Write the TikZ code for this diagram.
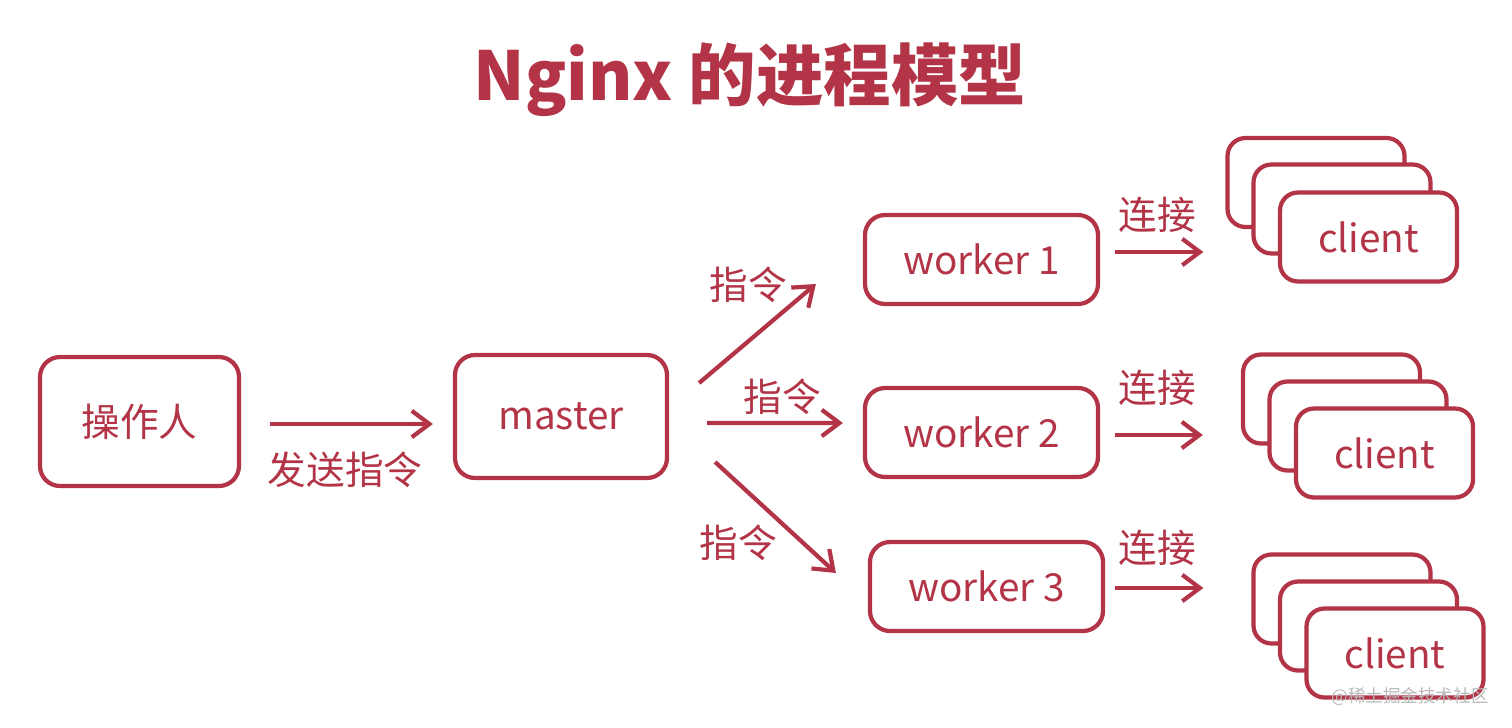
\documentclass[tikz,border=0pt]{standalone}
\usepackage{fontspec}
\setmainfont{Noto Sans CJK SC}
\usetikzlibrary{arrows.meta}
\definecolor{nred}{RGB}{178,52,70}

\begin{document}
\begin{tikzpicture}[>={Straight Barb[length=5pt,width=7.5pt]},
        box/.style={draw=nred, line width=1.2pt, rounded corners=0.2cm, fill=white, text=nred, inner sep=0pt, font=\fontsize{11}{13}\selectfont},
        cbox/.style={box, minimum width=1.77cm, minimum height=0.89cm, rounded corners=0.18cm},
        arr/.style={->, draw=nred, line width=1.2pt},
        lbl/.style={text=nred, inner sep=0pt, font=\fontsize{11}{13}\selectfont}]
        \useasboundingbox (0, 0) rectangle (15.12, -7.27);
        \node[text=nred, font=\fontsize{19.2}{23}\selectfont\bfseries] (title) at (7.5, -0.8) {Nginx 的进程模型};
        \node[box, minimum width=1.99cm, minimum height=1.29cm] (op) at (1.395, -4.215) {操作人};
        \node[box, minimum width=2.12cm, minimum height=1.23cm] (master) at (5.61, -4.165) {master};
        \node[box, minimum width=2.33cm, minimum height=0.89cm] (w1) at (9.815, -2.595) {worker 1};
        \node[box, minimum width=2.33cm, minimum height=0.89cm] (w2) at (9.815, -4.325) {worker 2};
        \node[box, minimum width=2.33cm, minimum height=0.89cm] (w3) at (9.865, -5.865) {worker 3};
        % client stacks, back to front
        \node[cbox] (c1a) at (13.16, -1.825) {};
        \node[cbox] (c1b) at (13.42, -2.09) {};
        \node[cbox] (c1c) at (13.685, -2.37) {client};
        \node[cbox] (c2a) at (13.315, -3.99) {};
        \node[cbox] (c2b) at (13.58, -4.26) {};
        \node[cbox] (c2c) at (13.845, -4.53) {client};
        \node[cbox] (c3a) at (13.42, -5.99) {};
        \node[cbox] (c3b) at (13.685, -6.26) {};
        \node[cbox] (c3c) at (13.95, -6.53) {client};
        \draw[arr, shorten <=0.29cm, shorten >=0.2cm] ([yshift=-0.025cm]op.east) -- ([yshift=-0.075cm]master.west)
            node[lbl, midway, xshift=-0.02cm, yshift=-0.46cm] {发送指令};
        \draw[arr] ([shift={(0.30, 0.335)}]master.east) -- ([shift={(-0.47, -0.245)}]w1.west)
            node[lbl, midway, xshift=-0.095cm, yshift=0.485cm] {指令};
        \draw[arr] ([shift={(0.38, -0.065)}]master.east) -- ([shift={(-0.20, 0.095)}]w2.west)
            node[lbl, midway, xshift=0.07cm, yshift=0.26cm] {指令};
        \draw[arr] ([shift={(0.46, -0.455)}]master.east) -- ([shift={(-0.32, 0.135)}]w3.west)
            node[lbl, midway, xshift=-0.375cm, yshift=-0.255cm] {指令};
        \draw[arr, shorten <=0.15cm, shorten >=0.22cm] ([yshift=0.075cm]w1.east) -- ([yshift=0.075cm]w1.east -| c1a.west)
            node[lbl, midway, xshift=-0.055cm, yshift=0.37cm] {连接};
        \draw[arr, shorten <=0.15cm, shorten >=0.38cm] ([yshift=-0.025cm]w2.east) -- ([yshift=-0.025cm]w2.east -| c2a.west)
            node[lbl, midway, xshift=-0.135cm, yshift=0.47cm] {连接};
        \draw[arr, shorten <=0.10cm, shorten >=0.48cm] ([yshift=-0.015cm]w3.east) -- ([yshift=-0.015cm]w3.east -| c3a.west)
            node[lbl, midway, xshift=-0.21cm, yshift=0.40cm] {连接};
        \node[text=gray!55, inner sep=0pt, font=\fontsize{5}{6}\selectfont] (mark) at (14.1, -6.97) {@稀土掘金技术社区};
    \end{tikzpicture}
\end{document}
